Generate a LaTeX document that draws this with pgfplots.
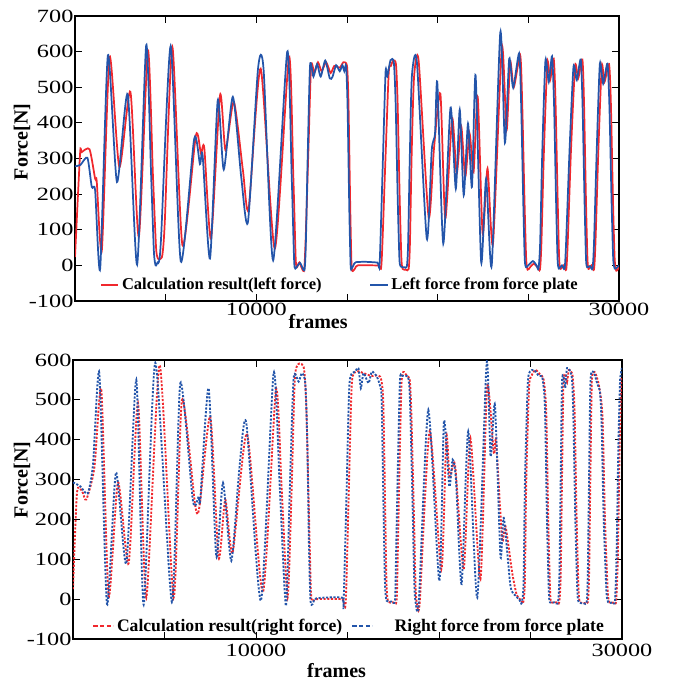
\documentclass[border=0pt]{standalone}
\usepackage{fontspec}
\setmainfont{Liberation Serif}
\newfontfamily\tickfont{Liberation Serif}[FakeStretch=1.3]
\usepackage{pgfplots}
\pgfplotsset{compat=1.18}
\definecolor{cred}{RGB}{240,40,45}
\definecolor{cblue}{RGB}{35,85,170}
\pgfplotsset{
  myax/.style={
    scale only axis,
    xmin=0,xmax=30000,
    xtick={0,5000,10000,15000,20000,25000,30000},
    xticklabels={,,10000,,,,30000},
    ytick distance=100,
    tick align=inside,
    major tick length=5pt,
    axis line style={line width=0.8pt},
    every tick/.style={black,line width=0.6pt},
    tick label style={font=\tickfont\fontsize{14}{14}\selectfont},
    /pgf/number format/assume math mode=true,
    scaled x ticks=false,
    yticklabel style={inner sep=1pt},
    label style={font=\bfseries\fontsize{15}{15}\selectfont},
    legend style={draw=none,fill=none,
      legend columns=2,
      legend cell align=left, inner sep=0pt, row sep=0pt},
  }
}
\begin{document}
\begin{tikzpicture}
\path[use as bounding box] (0,0) rectangle (504pt,-511.5pt);
% ---------------- top ----------------
\begin{axis}[myax, at={(56.25pt,-12pt)}, anchor=north west,
  width=408pt, height=213.75pt, ymin=-100, ymax=700,
  xlabel={frames}, ylabel={Force[N]},
  xticklabel style={inner sep=1pt},
  xlabel style={at={(axis description cs:0.447,0)}, anchor=center, yshift=-15.75pt},
  ylabel style={at={(axis description cs:-0.0974,0.558)}, anchor=center},
  legend style={at={(axis description cs:0.046,0.056)}, anchor=west,
     font=\bfseries\fontsize{12.4}{12.4}\selectfont,
     /tikz/every even column/.append style={column sep=34pt}},
  legend image code/.code={\draw[#1] (0pt,0pt) -- (13pt,0pt);},
]
\addplot[cred, line width=1.3pt, smooth, tension=0.4] coordinates {
(0,23) (280,314) (370,318) (800,326) (1111,243) (1200,235) (1480,42) (1908,585) (2445,276) (3056,487) (3519,80) (4019,604) (4300,250) (4470,50) (4574,19) (4700,18) (4820,30) (4950,120) (5371,613) (5927,56) (6667,365) (6945,314) (7130,330) (7500,75) (8000,478) (8300,323) (8760,459) (9260,267) (9575,159) (10240,552) (11020,47) (11800,585) (12040,250) (12170,20) (12240,-5) (12371,8) (12620,-16) (12710,60) (12870,320) (13020,560) (13200,540) (13400,570) (13600,545) (13850,570) (14100,540) (14300,560) (14600,555) (14800,570) (15000,560) (15080,460) (15180,160) (15250,0) (15320,-16) (15450,-8) (15600,0) (16700,0) (16900,3) (17100,270) (17300,540) (17420,560) (17550,575) (17700,565) (17790,460) (17910,180) (18000,20) (18070,-10) (18250,-12) (18400,-10) (18470,60) (18570,320) (18700,530) (18950,575) (19500,136) (19800,330) (20150,482) (20420,131) (20800,412) (21050,257) (21300,390) (21520,248) (21760,370) (21980,262) (22210,473) (22480,89) (22750,272) (23050,61) (23540,613) (23800,379) (24000,571) (24200,500) (24550,590) (24660,460) (24790,180) (24880,20) (24960,-12) (25100,-5) (25300,5) (25500,-5) (25640,-12) (25720,60) (25860,320) (26050,570) (26200,520) (26400,580) (26500,460) (26620,180) (26700,20) (26770,-10) (26950,0) (27090,-12) (27170,60) (27350,320) (27580,560) (27750,525) (27980,578) (28070,460) (28180,180) (28260,20) (28320,-10) (28480,0) (28620,-12) (28700,60) (28860,320) (29050,560) (29200,515) (29450,565) (29550,460) (29670,180) (29760,20) (29850,-15) (30000,-5)
};
\addlegendentry{Calculation result(left force)}
\addplot[cblue, line width=1.3pt, smooth, tension=0.4] coordinates {
(0,278) (300,282) (685,302) (926,220) (1111,210) (1389,-9) (1815,590) (2315,234) (2908,480) (3426,2) (3926,618) (4200,250) (4350,40) (4445,0) (4550,8) (4630,10) (4750,80) (5278,616) (5834,11) (6575,356) (6890,284) (7038,309) (7445,19) (7871,463) (8204,269) (8704,473) (9167,248) (9538,122) (10093,552) (10400,550) (10927,14) (11705,600) (11950,250) (12080,20) (12150,-9) (12408,7) (12650,-14) (12730,60) (12830,300) (12964,562) (13150,530) (13350,565) (13550,530) (13800,575) (14050,525) (14200,529) (14400,562) (14600,545) (14750,562) (14850,545) (14950,560) (15030,450) (15130,150) (15200,0) (15260,-9) (15400,5) (15491,9) (16000,10) (16673,8) (16800,5) (16970,280) (17127,543) (17218,530) (17400,576) (17582,570) (17680,460) (17800,180) (17890,20) (17960,-3) (18150,-5) (18300,-3) (18370,60) (18470,320) (18582,534) (18854,571) (19400,75) (19673,323) (19855,370) (19982,512) (20309,61) (20709,443) (21000,215) (21218,437) (21436,197) (21673,398) (21891,220) (22091,534) (22400,9) (22672,243) (22981,0) (23454,654) (23709,344) (23945,580) (24163,499) (24490,595) (24600,460) (24720,180) (24800,20) (24870,-5) (25000,0) (25254,12) (25450,0) (25560,-9) (25650,60) (25770,320) (25945,576) (26127,515) (26309,587) (26420,450) (26530,180) (26610,20) (26680,-9) (26854,0) (27000,-9) (27080,60) (27270,320) (27490,557) (27672,520) (27890,578) (27990,450) (28100,180) (28180,20) (28240,-5) (28399,-2) (28540,-9) (28620,60) (28770,320) (28945,566) (29127,510) (29363,566) (29470,450) (29590,180) (29680,20) (29763,-9) (29909,-5) (30000,0)
};
\addlegendentry{Left force from force plate}
\end{axis}
% ---------------- bottom ----------------
\begin{axis}[myax, at={(54.75pt,-270pt)}, anchor=north west,
  width=411.75pt, height=209.25pt, ymin=-100, ymax=600,
  xlabel={frames}, ylabel={Force[N]},
  xlabel style={at={(axis description cs:0.48,0)}, anchor=center, yshift=-24pt},
  ylabel style={at={(axis description cs:-0.093,0.57)}, anchor=center},
  legend style={at={(axis description cs:0.035,0.047)}, anchor=west,
     font=\bfseries\fontsize{13.2}{13.2}\selectfont,
     /tikz/every even column/.append style={column sep=5pt}},
  legend image code/.code={\draw[#1, dash pattern=on 3.2pt off 1.8pt] (0pt,0pt) -- (15pt,0pt);},
]
\addplot[cred, line width=1.4pt, dash pattern=on 1.6pt off 1.2pt, smooth, tension=0.4] coordinates {
(0,25) (218,267) (491,271) (728,250) (1166,329) (1548,525) (1948,8) (2459,293) (3042,90) (3551,492) (4006,4) (4735,587) (5499,4) (5955,500) (6684,233) (6920,235) (7503,458) (7958,104) (8322,250) (8723,117) (9505,415) (10379,17) (11090,525) (11400,280) (11727,4) (11950,280) (12146,567) (12600,583) (12750,480) (12900,200) (13000,20) (13080,-5) (13300,0) (14690,0) (14900,-8) (15070,270) (15237,542) (15510,571) (15876,567) (16300,560) (16789,558) (16950,500) (17050,250) (17130,40) (17220,-6) (17480,-8) (17680,-6) (17740,100) (17850,350) (17950,540) (18050,570) (18250,560) (18400,550) (18480,480) (18620,230) (18720,30) (18800,-12) (18950,-5) (19490,421) (20128,75) (20402,408) (20584,304) (20877,337) (21351,75) (21716,404) (22263,50) (22629,533) (22994,367) (23121,396) (23450,150) (23632,183) (23997,67) (24250,10) (24470,-2) (24590,-10) (24690,40) (24770,300) (24920,530) (25050,560) (25270,575) (25500,565) (25720,550) (25860,470) (25970,200) (26070,20) (26140,-8) (26400,-8) (26570,-8) (26650,60) (26720,300) (26800,540) (26900,565) (27000,545) (27100,575) (27300,560) (27410,470) (27520,200) (27630,20) (27710,-8) (27970,-10) (28130,-8) (28200,60) (28270,300) (28350,545) (28500,570) (28700,545) (28860,500) (28950,440) (29070,200) (29220,20) (29320,-8) (29570,-8) (29680,-5) (29770,100) (29870,380) (29950,540) (30000,558)
};
\addlegendentry{Calculation result(right force)}
\addplot[cblue, line width=1.4pt, dash pattern=on 1.6pt off 1.2pt, smooth, tension=0.4] coordinates {
(0,293) (401,283) (801,265) (1093,338) (1439,567) (1857,-12) (2349,318) (2914,90) (3460,550) (3861,-14) (4498,593) (5408,-8) (5864,542) (6556,246) (6865,257) (6956,250) (7412,529) (7830,108) (8195,292) (8650,96) (9087,325) (9469,442) (10270,-4) (10962,567) (11300,280) (11636,-17) (11850,280) (12055,554) (12328,546) (12510,567) (12692,542) (12800,400) (12900,120) (12980,-5) (13100,-12) (13300,2) (14690,4) (14781,-15) (14950,270) (15110,542) (15420,571) (15602,579) (15730,529) (15876,567) (16150,542) (16332,571) (16606,558) (16789,533) (16865,500) (16960,250) (17047,40) (17139,-4) (17400,-6) (17594,-4) (17650,100) (17760,350) (17867,550) (17958,560) (18150,560) (18322,555) (18413,500) (18550,250) (18650,40) (18730,-11) (18900,-5) (19415,475) (20016,46) (20271,446) (20562,283) (20744,350) (20926,300) (21236,38) (21600,421) (22092,4) (22602,592) (22820,358) (23057,487) (23359,108) (23541,204) (23906,33) (24200,8) (24400,-2) (24515,-10) (24620,40) (24700,300) (24850,540) (24970,571) (25200,575) (25450,560) (25650,555) (25790,480) (25900,200) (26000,20) (26063,-8) (26300,-8) (26500,-8) (26580,60) (26650,300) (26720,540) (26800,560) (26900,530) (27000,580) (27246,560) (27337,470) (27450,200) (27560,20) (27640,-8) (27900,-10) (28066,-8) (28130,60) (28200,300) (28280,550) (28450,570) (28650,540) (28794,520) (28885,440) (29000,200) (29150,20) (29250,-8) (29500,-8) (29613,-5) (29700,100) (29800,380) (29887,540) (29950,570) (30000,580)
};
\addlegendentry{\hspace{14pt}Right force from force plate}
\end{axis}
\end{tikzpicture}
\end{document}
